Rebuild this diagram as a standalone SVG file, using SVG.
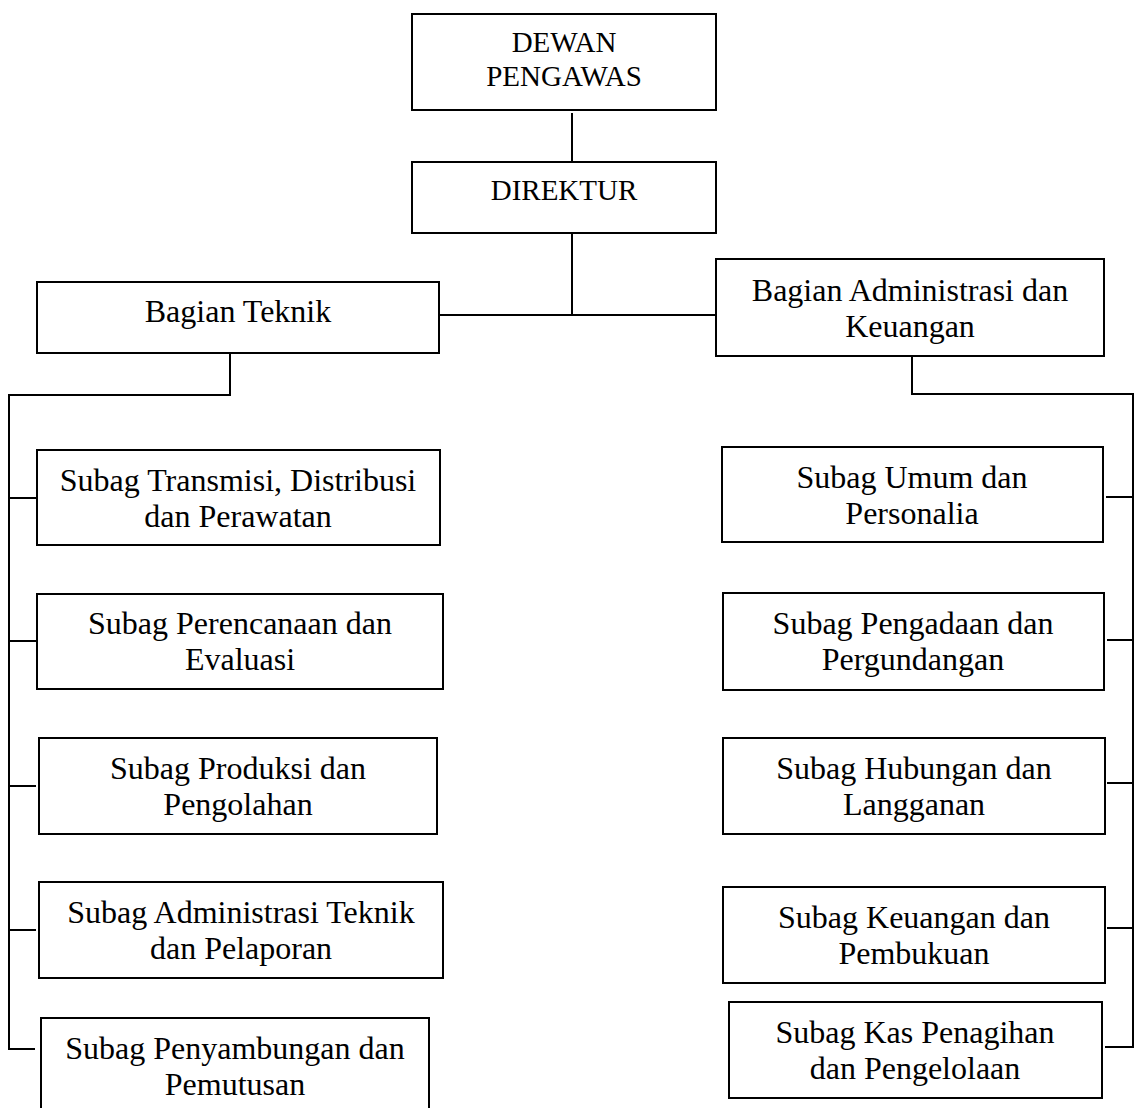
<svg xmlns="http://www.w3.org/2000/svg" width="1135" height="1108" viewBox="0 0 1135 1108">
<style>
.box{fill:#fff;stroke:#000;stroke-width:2}
.t{font-family:"Liberation Serif","Times New Roman",serif;font-size:32px;fill:#000;text-anchor:middle}
.s{font-size:29px}
.c{fill:none;stroke:#000;stroke-width:2}
</style>
<rect width="1135" height="1108" fill="#fff"/>
<g id="connectors">
<path class="c" d="M572,113V162"/>
<path class="c" d="M572,233V314"/>
<path class="c" d="M440,315H716"/>
<path class="c" d="M230,353V395H9V1049H35"/>
<path class="c" d="M9,498H37M9,641H37M9,786H36M9,930H36"/>
<path class="c" d="M912,356V394H1133V1047H1105"/>
<path class="c" d="M1106,497H1133M1107,640H1133M1107,783H1133M1107,928H1133"/>
</g>
<g id="dewan"><rect class="box" x="412" y="14" width="304" height="96"/><text class="t s" x="564" y="52">DEWAN</text><text class="t s" x="564" y="86">PENGAWAS</text></g>
<g id="direktur"><rect class="box" x="412" y="162" width="304" height="71"/><text class="t s" x="564" y="200">DIREKTUR</text></g>
<g id="bagian-teknik"><rect class="box" x="37" y="282" width="402" height="71"/><text class="t" x="238" y="322">Bagian Teknik</text></g>
<g id="bagian-adm"><rect class="box" x="716" y="259" width="388" height="97"/><text class="t" x="910" y="301">Bagian Administrasi dan</text><text class="t" x="910" y="337">Keuangan</text></g>
<g id="transmisi"><rect class="box" x="37" y="450" width="403" height="95"/><text class="t" x="238" y="491">Subag Transmisi, Distribusi</text><text class="t" x="238" y="527">dan Perawatan</text></g>
<g id="perencanaan"><rect class="box" x="37" y="594" width="406" height="95"/><text class="t" x="240" y="634">Subag Perencanaan dan</text><text class="t" x="240" y="670">Evaluasi</text></g>
<g id="produksi"><rect class="box" x="39" y="738" width="398" height="96"/><text class="t" x="238" y="779">Subag Produksi dan</text><text class="t" x="238" y="815">Pengolahan</text></g>
<g id="adm-teknik"><rect class="box" x="39" y="882" width="404" height="96"/><text class="t" x="241" y="923">Subag Administrasi Teknik</text><text class="t" x="241" y="959">dan Pelaporan</text></g>
<g id="penyambungan"><rect class="box" x="41" y="1018" width="388" height="100"/><text class="t" x="235" y="1059">Subag Penyambungan dan</text><text class="t" x="235" y="1095">Pemutusan</text></g>
<g id="umum"><rect class="box" x="722" y="447" width="381" height="95"/><text class="t" x="912" y="488">Subag Umum dan</text><text class="t" x="912" y="524">Personalia</text></g>
<g id="pengadaan"><rect class="box" x="723" y="593" width="381" height="97"/><text class="t" x="913" y="634">Subag Pengadaan dan</text><text class="t" x="913" y="670">Pergundangan</text></g>
<g id="hubungan"><rect class="box" x="723" y="738" width="382" height="96"/><text class="t" x="914" y="779">Subag Hubungan dan</text><text class="t" x="914" y="815">Langganan</text></g>
<g id="keuangan"><rect class="box" x="723" y="887" width="382" height="96"/><text class="t" x="914" y="928">Subag Keuangan dan</text><text class="t" x="914" y="964">Pembukuan</text></g>
<g id="kas"><rect class="box" x="729" y="1002" width="373" height="96"/><text class="t" x="915" y="1043">Subag Kas Penagihan</text><text class="t" x="915" y="1079">dan Pengelolaan</text></g>
</svg>
